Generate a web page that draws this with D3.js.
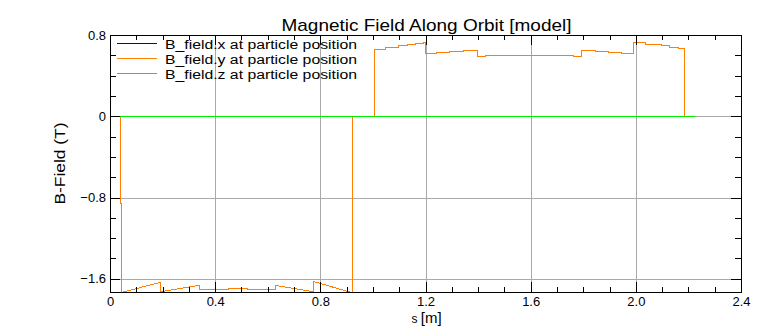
<!DOCTYPE html>
<html><head><meta charset="utf-8">
<script src="https://cdn.jsdelivr.net/npm/d3@7"></script>
<style>
html,body{margin:0;padding:0;background:#fff;}
svg{display:block;font-family:"Liberation Sans",Arial,sans-serif;}
</style></head><body>
<svg id="chart" width="782" height="328"></svg>
<script>
const title = "Magnetic Field Along Orbit [model]";
const xLabelMain = "s";
const xLabelUnit = "[m]";
const yLabel = "B-Field (T)";
const legendLabels = ["B_field.x at particle position", "B_field.y at particle position", "B_field.z at particle position"];
const seriesColors = ["#0000cd", "#ff8000", "#00ee00"];
const xTicks = [0, 0.4, 0.8, 1.2, 1.6, 2.0, 2.4];
const xTickLabels = ["0", "0.4", "0.8", "1.2", "1.6", "2.0", "2.4"];
const yTicks = [0.8, 0, -0.8, -1.6];
const yTickLabels = ["0.8", "0", "\u22120.8", "\u22121.6"];
const xGrid = [0.4, 0.8, 1.2, 1.6, 2.0];
const yGrid = [0, -0.8, -1.6];
const xDomain = [0, 2.4];
const yDomain = [-1.73, 0.8];

// B_field.x and B_field.z (zero along the orbit)
const sXZ = [0, 2.223];
const bX = [0, 0];
const bZ = [0, 0];

// B_field.y along s
const sY = [0, 0.039, 0.039, 0.042, 0.042, 0.186, 0.19, 0.19, 0.195, 0.334, 0.337, 0.337,
  0.38, 0.38, 0.45, 0.45, 0.52, 0.52, 0.59, 0.59, 0.627, 0.627, 0.769, 0.773, 0.773, 0.917,
  0.921, 0.921, 1.005, 1.005, 1.045, 1.045, 1.096, 1.096, 1.128, 1.128, 1.159, 1.159, 1.191,
  1.191, 1.198, 1.198, 1.2415, 1.2415, 1.29, 1.29, 1.343, 1.343, 1.396, 1.396, 1.425, 1.425,
  1.761, 1.761, 1.79, 1.79, 1.843, 1.843, 1.896, 1.896, 1.945, 1.945, 1.989, 1.989, 1.995,
  1.995, 2.033, 2.033, 2.071, 2.071, 2.097, 2.097, 2.128, 2.128, 2.16, 2.16, 2.182, 2.182,
  2.185, 2.185, 2.223];
const bY = [0, 0, -0.85, -0.85, -1.73, -1.627, -1.627, -1.73, -1.722, -1.663, -1.663, -1.705,
  -1.705, -1.698, -1.698, -1.688, -1.688, -1.698, -1.698, -1.705, -1.705, -1.66, -1.718, -1.718, -1.624, -1.73,
  -1.73, 0, 0, 0.664, 0.664, 0.68, 0.68, 0.697, 0.697, 0.71, 0.71, 0.723, 0.723,
  0.736, 0.736, 0.618, 0.618, 0.628, 0.628, 0.641, 0.641, 0.651, 0.651, 0.589, 0.589, 0.605,
  0.605, 0.589, 0.589, 0.651, 0.651, 0.641, 0.641, 0.628, 0.628, 0.618, 0.618, 0.736, 0.736,
  0.729, 0.729, 0.716, 0.716, 0.707, 0.707, 0.697, 0.697, 0.683, 0.683, 0.67, 0.67, 0.34,
  0.34, 0, 0];

const X0 = 110, X1 = 741, Y0 = 35, Y1 = 292;
const svg = d3.select("#chart");
const x = d3.scaleLinear().domain(xDomain).range([X0, X1]);
const y = d3.scaleLinear().domain(yDomain).range([Y1, Y0]);
const gridColor = "#aaaaaa";

const plot = svg.append("g").attr("transform", "translate(0.5,0.5)").attr("shape-rendering", "crispEdges");
// grid
plot.selectAll("line.gx").data(xGrid).join("line").attr("class", "gx")
  .attr("x1", d => Math.round(x(d))).attr("x2", d => Math.round(x(d)))
  .attr("y1", Y0).attr("y2", Y1).attr("stroke", gridColor);
plot.selectAll("line.gy").data(yGrid).join("line").attr("class", "gy")
  .attr("x1", X0).attr("x2", X1)
  .attr("y1", d => Math.round(y(d))).attr("y2", d => Math.round(y(d))).attr("stroke", gridColor);

// series
const series = [
  {s: sXZ, b: bX, color: seriesColors[0]},
  {s: sY, b: bY, color: seriesColors[1]},
  {s: sXZ, b: bZ, color: seriesColors[2]}
];
const line = d3.line().x(d => Math.round(x(d[0]))).y(d => Math.round(y(d[1])));
series.forEach(sr => {
  plot.append("path").datum(sr.s.map((v, i) => [v, sr.b[i]]))
    .attr("d", line).attr("fill", "none").attr("stroke", sr.color).attr("stroke-width", 1);
});

// frame
plot.append("rect").attr("x", X0).attr("y", Y0).attr("width", X1 - X0).attr("height", Y1 - Y0)
  .attr("fill", "none").attr("stroke", "#000");

// axes
const axesG = svg.append("g").attr("shape-rendering", "crispEdges");
const xMinor = d3.range(0, 2.41, 0.1).map(v => +v.toFixed(2));
const yMinor = d3.range(-1.6, 0.81, 0.2).map(v => +v.toFixed(2));

function styleAxis(g) {
  g.select(".domain").remove();
  g.selectAll(".tick line").attr("stroke", "#000");
  g.selectAll(".tick text").attr("fill", "#000").attr("font-family", "Liberation Sans, Arial, sans-serif").attr("font-size", 13);
}
axesG.append("g").attr("transform", `translate(0,${Y1})`)
  .call(d3.axisBottom(x).tickValues(xMinor).tickSizeInner(-5).tickSizeOuter(0).tickFormat("")).call(styleAxis);
axesG.append("g").attr("transform", `translate(0,${Y1})`)
  .call(d3.axisBottom(x).tickValues(xTicks).tickSizeInner(-10).tickSizeOuter(0).tickPadding(4.5)
    .tickFormat((d, i) => xTickLabels[i])).call(styleAxis);
axesG.append("g").attr("transform", `translate(0,${Y0})`)
  .call(d3.axisTop(x).tickValues(xMinor).tickSizeInner(-5).tickSizeOuter(0).tickFormat("")).call(styleAxis);
axesG.append("g").attr("transform", `translate(0,${Y0})`)
  .call(d3.axisTop(x).tickValues(xTicks).tickSizeInner(-10).tickSizeOuter(0).tickFormat("")).call(styleAxis);
axesG.append("g").attr("transform", `translate(${X0},0)`)
  .call(d3.axisLeft(y).tickValues(yMinor).tickSizeInner(-6).tickSizeOuter(0).tickFormat("")).call(styleAxis);
axesG.append("g").attr("transform", `translate(${X0},0)`)
  .call(d3.axisLeft(y).tickValues(yTicks).tickSizeInner(-10).tickSizeOuter(0).tickPadding(4)
    .tickFormat((d, i) => yTickLabels[i])).call(styleAxis);
axesG.append("g").attr("transform", `translate(${X1},0)`)
  .call(d3.axisRight(y).tickValues(yMinor).tickSizeInner(-6).tickSizeOuter(0).tickFormat("")).call(styleAxis);
axesG.append("g").attr("transform", `translate(${X1},0)`)
  .call(d3.axisRight(y).tickValues(yTicks).tickSizeInner(-10).tickSizeOuter(0).tickFormat("")).call(styleAxis);

// title
svg.append("text").attr("x", 426.5).attr("y", 31).attr("text-anchor", "middle")
  .attr("font-size", 17).attr("textLength", 290).attr("lengthAdjust", "spacingAndGlyphs")
  .text(title);

// x label
const xl = svg.append("text").attr("x", (X0 + X1) / 2 + 1).attr("y", 322.5).attr("text-anchor", "middle");
xl.append("tspan").attr("font-size", 12).text(xLabelMain + " ");
xl.append("tspan").attr("font-size", 15).text(xLabelUnit);

// y label
svg.append("text").attr("transform", `translate(65,${(Y0 + Y1) / 2}) rotate(-90)`)
  .attr("text-anchor", "middle").attr("font-size", 14)
  .attr("textLength", 82).attr("lengthAdjust", "spacingAndGlyphs").text(yLabel);

// legend
const leg = svg.append("g");
legendLabels.forEach((lab, i) => {
  const ly = 43 + i * 15;
  leg.append("line").attr("x1", 117).attr("x2", 157).attr("y1", ly + 0.5).attr("y2", ly + 0.5)
    .attr("stroke", seriesColors[i]).attr("shape-rendering", "crispEdges");
  leg.append("text").attr("x", 165).attr("y", ly + 5.5).attr("font-size", 12)
    .attr("textLength", 192).attr("lengthAdjust", "spacingAndGlyphs").text(lab);
});
</script>
</body></html>
